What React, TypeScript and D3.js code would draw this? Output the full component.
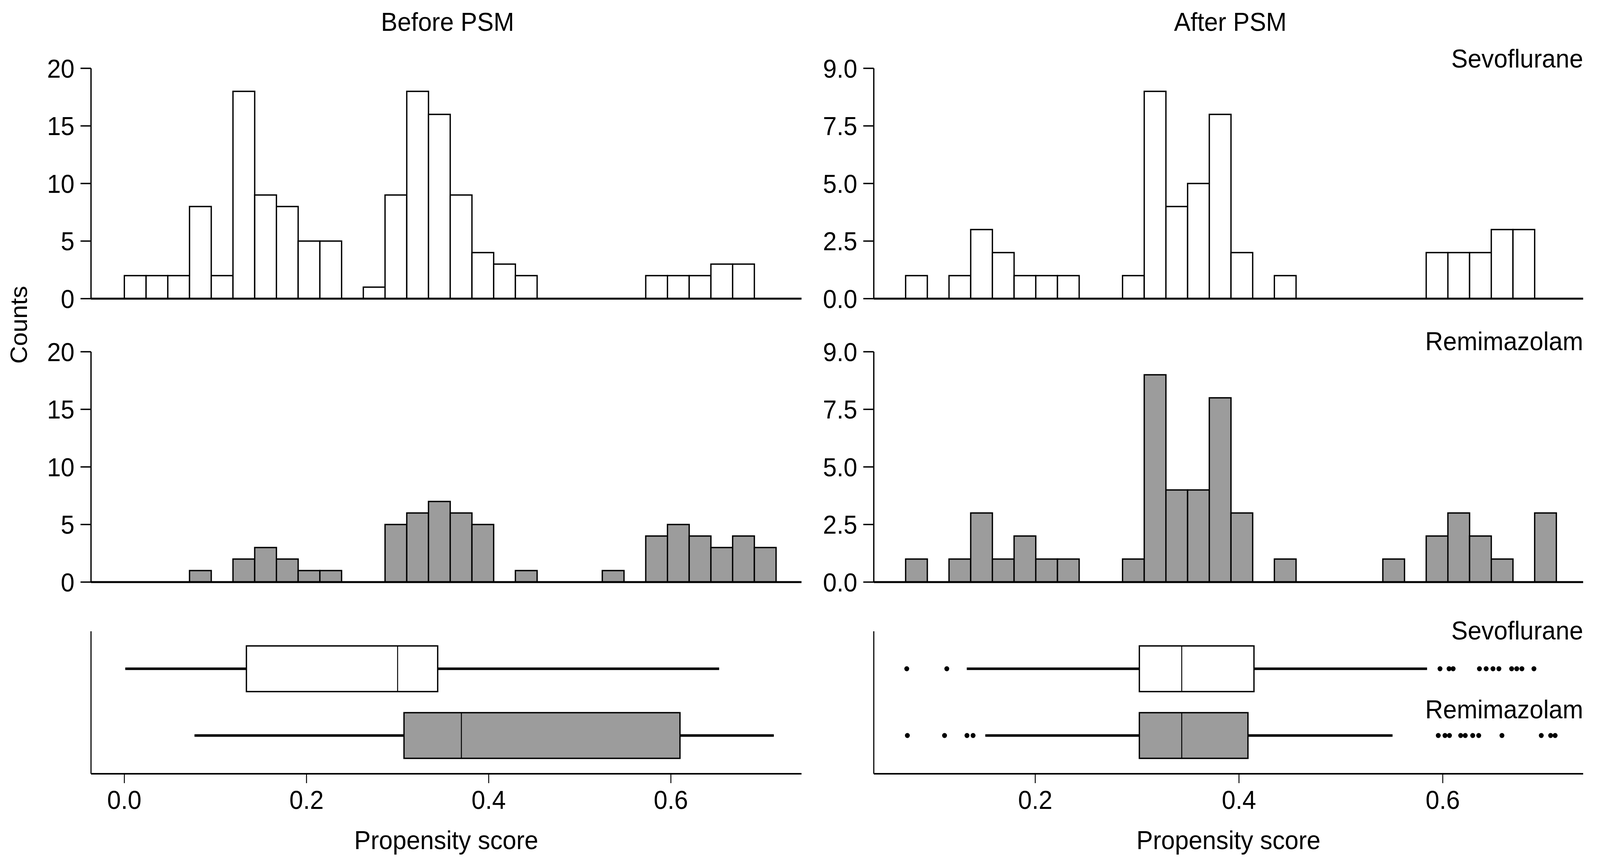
import React from "react";
import * as d3 from "d3";

// ---------- data ----------
const panelTitles = ["Before PSM", "After PSM"];
const groups = ["Sevoflurane", "Remimazolam"];

// histogram bins (propensity score), start and width per column
const beforeBinStart = 0.0;
const beforeBinWidth = 0.02385;
const afterBinStart = 0.0728;
const afterBinWidth = 0.02129;

const beforeSevoCounts = [2, 2, 2, 8, 2, 18, 9, 8, 5, 5, 0, 1, 9, 18, 16, 9, 4, 3, 2, 0, 0, 0, 0, 0, 2, 2, 2, 3, 3, 0];
const beforeRemiCounts = [0, 0, 0, 1, 0, 2, 3, 2, 1, 1, 0, 0, 5, 6, 7, 6, 5, 0, 1, 0, 0, 0, 1, 0, 4, 5, 4, 3, 4, 3];
const afterSevoCounts = [1, 0, 1, 3, 2, 1, 1, 1, 0, 0, 1, 9, 4, 5, 8, 2, 0, 1, 0, 0, 0, 0, 0, 0, 2, 2, 2, 3, 3, 0];
const afterRemiCounts = [1, 0, 1, 3, 1, 2, 1, 1, 0, 0, 1, 9, 4, 4, 8, 3, 0, 1, 0, 0, 0, 0, 1, 0, 2, 3, 2, 1, 0, 3];

const beforeYTicks = [0, 5, 10, 15, 20];
const beforeYTickLabels = ["0", "5", "10", "15", "20"];
const afterYTicks = [0, 2.5, 5, 7.5, 10];
const afterYTickLabels = ["0.0", "2.5", "5.0", "7.5", "9.0"];

const beforeXTicks = [0, 0.2, 0.4, 0.6];
const beforeXTickLabels = ["0.0", "0.2", "0.4", "0.6"];
const afterXTicks = [0.2, 0.4, 0.6];
const afterXTickLabels = ["0.2", "0.4", "0.6"];

// box plot stats [whiskerLow, q1, median, q3, whiskerHigh]
const beforeSevoBox = [0.001, 0.134, 0.3, 0.344, 0.653];
const beforeRemiBox = [0.077, 0.307, 0.37, 0.61, 0.713];
const afterSevoBox = [0.1328, 0.3022, 0.3438, 0.4147, 0.5846];
const afterRemiBox = [0.151, 0.3022, 0.3438, 0.4088, 0.5507];

const afterSevoOutliers = [0.0739, 0.1132, 0.5973, 0.6062, 0.6102, 0.636, 0.6426, 0.6493, 0.6551, 0.6676, 0.6726, 0.6777, 0.6895];
const afterRemiOutliers = [0.0745, 0.111, 0.133, 0.139, 0.5956, 0.6022, 0.6066, 0.6176, 0.6221, 0.6294, 0.6353, 0.6581, 0.6967, 0.7059, 0.7103];

const xTitle = "Propensity score";
const yTitle = "Counts";

// ---------- layout ----------
const W = 4272;
const H = 2208;
const FONT = "'Liberation Sans', Arial, Helvetica, sans-serif";
const FS = 66;
const GRAY = "#9c9c9c";

const cols = [
  { x0: 243, x1: 2140, domain: [-0.0366, 0.7434] },
  { x0: 2333, x1: 4227, domain: [0.04154, 0.7378] },
];
const rows = [
  { y0: 765, y1: 175 },
  { y0: 1491, y1: 901 },
];
const boxPanel = { top: 1617, bottom: 1982 };

function Hist({ x, y, counts, start, width, fill, x0, x1, ticks, tickLabels }: any) {
  const base = y(0);
  return (
    <g>
      {counts.map((c: number, i: number) =>
        c > 0 ? (
          <rect
            key={i}
            x={x(start + i * width)}
            y={y(c)}
            width={x(start + (i + 1) * width) - x(start + i * width)}
            height={base - y(c)}
            fill={fill}
            stroke="#000"
            strokeWidth={3.5}
          />
        ) : null
      )}
      <line x1={x0} x2={x0} y1={y(ticks[ticks.length - 1])} y2={base} stroke="#000" strokeWidth={3.5} />
      <line x1={x0} x2={x1} y1={base} y2={base} stroke="#000" strokeWidth={5} />
      {ticks.map((t: number, i: number) => (
        <g key={t}>
          <line x1={x0 - 28} x2={x0} y1={y(t)} y2={y(t)} stroke="#000" strokeWidth={3.5} />
          <text x={x0 - 44} y={y(t)} dy="0.36em" textAnchor="end" fontSize={FS} fontFamily={FONT}>
            {tickLabels[i]}
          </text>
        </g>
      ))}
    </g>
  );
}

function Box({ x, cy, stats, fill, outliers }: any) {
  const [lo, q1, med, q3, hi] = stats;
  const h = 117;
  return (
    <g>
      <line x1={x(lo)} x2={x(q1)} y1={cy} y2={cy} stroke="#000" strokeWidth={6.5} />
      <line x1={x(q3)} x2={x(hi)} y1={cy} y2={cy} stroke="#000" strokeWidth={6.5} />
      <rect x={x(q1)} y={cy - h / 2} width={x(q3) - x(q1)} height={h} fill={fill} stroke="#000" strokeWidth={3.5} />
      <line x1={x(med)} x2={x(med)} y1={cy - h / 2} y2={cy + h / 2} stroke="#000" strokeWidth={2.5} />
      {(outliers || []).map((o: number, i: number) => (
        <circle key={i} cx={x(o)} cy={cy} r={6.5} fill="#000" />
      ))}
    </g>
  );
}

export default function App() {
  const xs = cols.map((c) => d3.scaleLinear().domain(c.domain).range([c.x0, c.x1]));
  const yBefore = rows.map((r) => d3.scaleLinear().domain([0, 20]).range([r.y0, r.y1]));
  const yAfter = rows.map((r) => d3.scaleLinear().domain([0, 10]).range([r.y0, r.y1]));
  const yBox = d3.scalePoint().domain(groups).range([1713, 1884]);

  const beforeData = [beforeSevoCounts, beforeRemiCounts];
  const afterData = [afterSevoCounts, afterRemiCounts];
  const fills = ["#fff", GRAY];
  const groupLabelY = [173, 897];
  const boxLabelY = [1638, 1840];

  return (
    <svg
      viewBox={`0 0 ${W} ${H}`}
      preserveAspectRatio="none"
      style={{ position: "fixed", left: 0, top: 0, width: "100%", height: "100%", background: "#fff" }}
    >
      <rect x={0} y={0} width={W} height={H} fill="#fff" />
      {/* titles */}
      <text x={1195} y={79} textAnchor="middle" fontSize={FS} fontFamily={FONT}>{panelTitles[0]}</text>
      <text x={3285} y={79} textAnchor="middle" fontSize={FS} fontFamily={FONT}>{panelTitles[1]}</text>
      <text transform="translate(72,832) rotate(-90)" textAnchor="middle" fontSize={63} fontFamily={FONT}>{yTitle}</text>

      {/* histograms */}
      {rows.map((r, ri) => (
        <g key={"b" + ri}>
          <Hist
            x={xs[0]}
            y={yBefore[ri]}
            counts={beforeData[ri]}
            start={beforeBinStart}
            width={beforeBinWidth}
            fill={fills[ri]}
            x0={cols[0].x0}
            x1={cols[0].x1}
            ticks={beforeYTicks}
            tickLabels={beforeYTickLabels}
          />
          <Hist
            x={xs[1]}
            y={yAfter[ri]}
            counts={afterData[ri]}
            start={afterBinStart}
            width={afterBinWidth}
            fill={fills[ri]}
            x0={cols[1].x0}
            x1={cols[1].x1}
            ticks={afterYTicks}
            tickLabels={afterYTickLabels}
          />
          <text x={cols[1].x1} y={groupLabelY[ri]} textAnchor="end" fontSize={FS} fontFamily={FONT}>
            {groups[ri]}
          </text>
        </g>
      ))}

      {/* box plots */}
      {cols.map((c, ci) => {
        const x = xs[ci];
        const ticks = ci === 0 ? beforeXTicks : afterXTicks;
        const labels = ci === 0 ? beforeXTickLabels : afterXTickLabels;
        return (
          <g key={"box" + ci}>
            <line x1={c.x0} x2={c.x0} y1={boxPanel.top} y2={boxPanel.bottom} stroke="#000" strokeWidth={3} />
            <line x1={c.x0} x2={c.x1} y1={boxPanel.bottom} y2={boxPanel.bottom} stroke="#000" strokeWidth={4} />
            {ticks.map((t, i) => (
              <g key={t}>
                <line x1={x(t)} x2={x(t)} y1={boxPanel.bottom} y2={boxPanel.bottom + 24} stroke="#000" strokeWidth={2.5} />
                <text x={x(t)} y={2072} textAnchor="middle" fontSize={FS} fontFamily={FONT}>{labels[i]}</text>
              </g>
            ))}
            <text x={(c.x0 + c.x1) / 2} y={2175} textAnchor="middle" fontSize={FS} fontFamily={FONT}>{xTitle}</text>
            {ci === 0 ? (
              <>
                <Box x={x} cy={yBox(groups[0])} stats={beforeSevoBox} fill="#fff" />
                <Box x={x} cy={yBox(groups[1])} stats={beforeRemiBox} fill={GRAY} />
              </>
            ) : (
              <>
                <Box x={x} cy={yBox(groups[0])} stats={afterSevoBox} fill="#fff" outliers={afterSevoOutliers} />
                <Box x={x} cy={yBox(groups[1])} stats={afterRemiBox} fill={GRAY} outliers={afterRemiOutliers} />
                {groups.map((g, gi) => (
                  <text key={g} x={c.x1} y={boxLabelY[gi]} textAnchor="end" fontSize={FS} fontFamily={FONT}>{g}</text>
                ))}
              </>
            )}
          </g>
        );
      })}
    </svg>
  );
}
